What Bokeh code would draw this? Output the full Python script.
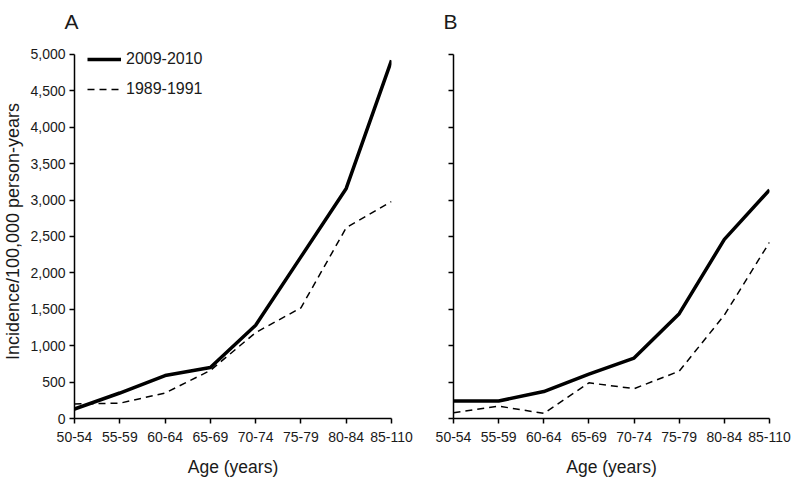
from bokeh.plotting import figure
from bokeh.layouts import row
from bokeh.models import Range1d, FixedTicker, NumeralTickFormatter, CustomJSTickFormatter, Legend, LegendItem
from bokeh.embed import file_html
from bokeh.resources import INLINE

age_groups = ["50-54", "55-59", "60-64", "65-69", "70-74", "75-79", "80-84", "85-110"]
y_ticks = [0, 500, 1000, 1500, 2000, 2500, 3000, 3500, 4000, 4500, 5000]

a_2009_2010 = [130, 350, 590, 700, 1280, 2220, 3160, 4920]
a_1989_1991 = [200, 210, 350, 660, 1180, 1520, 2620, 2980]
b_2009_2010 = [240, 240, 370, 610, 830, 1440, 2460, 3140]
b_1989_1991 = [80, 170, 70, 490, 410, 650, 1420, 2420]

FONT = "Liberation Sans"
xs = list(range(len(age_groups)))


def make_panel(letter, solid, dashed, width, left, right, show_ylabels, legend):
    p = figure(width=width, height=484, output_backend="svg", toolbar_location=None,
               x_range=Range1d(0, len(age_groups) - 1), y_range=Range1d(0, 5137),
               min_border_left=left, min_border_right=right, min_border_top=44,
               min_border_bottom=66, title=letter)
    p.title.text_font = FONT
    p.title.text_font_size = "21px"
    p.title.text_font_style = "normal"
    p.title.text_color = "#1a1a1a"
    p.title.offset = -10
    p.title.standoff = 19
    p.title.vertical_align = "top"
    p.outline_line_color = None
    p.xgrid.visible = False
    p.ygrid.visible = False
    p.background_fill_color = "white"

    r1 = p.line(xs, solid, line_color="black", line_width=3.5)
    r2 = p.line(xs, dashed, line_color="black", line_width=1.5, line_dash="7 5")

    for ax in (p.xaxis[0], p.yaxis[0]):
        ax.axis_line_width = 1.5
        ax.axis_line_color = "black"
        ax.major_tick_line_color = "black"
        ax.major_tick_line_width = 1.5
        ax.major_tick_out = 5
        ax.major_tick_in = 0
        ax.minor_tick_line_color = None
        ax.major_label_text_font = FONT
        ax.major_label_text_font_size = "14px"
        ax.major_label_text_color = "#1a1a1a"
        ax.axis_label_text_font = FONT
        ax.axis_label_text_font_style = "normal"
        ax.axis_label_text_color = "#1a1a1a"

    p.xaxis.ticker = FixedTicker(ticks=xs)
    p.xaxis.major_label_overrides = {i: g for i, g in enumerate(age_groups)}
    p.xaxis.major_label_standoff = 8
    p.xaxis.axis_label = "Age (years)"
    p.xaxis.axis_label_text_font_size = "17.5px"
    p.xaxis.axis_label_standoff = 12

    p.yaxis.ticker = FixedTicker(ticks=y_ticks)
    p.yaxis.bounds = (0, 5000)
    if show_ylabels:
        p.yaxis.formatter = NumeralTickFormatter(format="0,0")
        p.yaxis.axis_label = "Incidence/100,000 person-years"
        p.yaxis.axis_label_text_font_size = "18px"
        p.yaxis.major_label_standoff = 4
        p.yaxis.axis_label_standoff = 4
    else:
        p.yaxis.formatter = CustomJSTickFormatter(code="return ''")

    if legend:
        leg = Legend(items=[LegendItem(label="2009-2010", renderers=[r1]),
                            LegendItem(label="1989-1991", renderers=[r2])],
                     location=(13, 319))
        leg.border_line_color = None
        leg.background_fill_alpha = 0
        leg.padding = 0
        leg.margin = 0
        leg.spacing = 10
        leg.glyph_width = 34
        leg.glyph_height = 20
        leg.label_height = 20
        leg.label_standoff = 5
        leg.label_text_font = FONT
        leg.label_text_font_size = "16px"
        leg.label_text_color = "#1a1a1a"
        p.add_layout(leg)
    return p


pa = make_panel("A", a_2009_2010, a_1989_1991, 420, 74, 29, True, True)
pb = make_panel("B", b_2009_2010, b_1989_1991, 380, 33, 31, False, False)

layout = row(pa, pb)
open("out.html", "w").write(file_html(layout, INLINE))
